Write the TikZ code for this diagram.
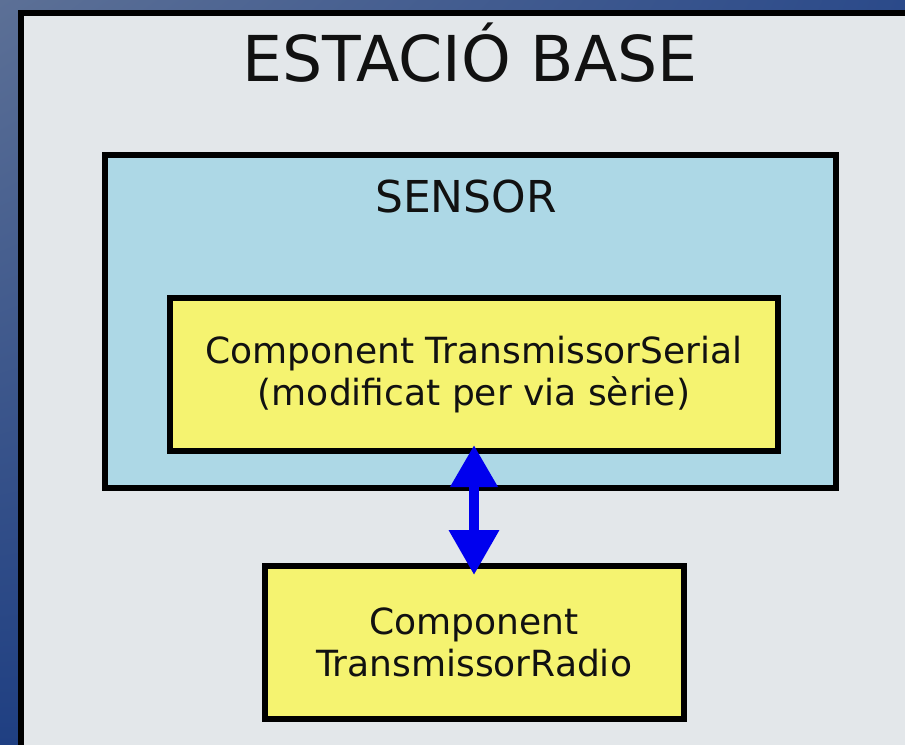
\documentclass[tikz,border=0pt]{standalone}
\usepackage{fontspec}
\setsansfont{DejaVu Sans}
\usepackage{tikz}
\usetikzlibrary{arrows.meta, positioning, shadings}
\definecolor{slatetop}{HTML}{5C7096}
\definecolor{slateright}{HTML}{2B4A8A}
\definecolor{slatebottom}{HTML}{1F3F82}
\definecolor{panelgray}{HTML}{E3E7EA}
\definecolor{sensorblue}{HTML}{ADD8E6}
\definecolor{compyellow}{HTML}{F5F370}
\definecolor{radioblue}{HTML}{0000EE}
\definecolor{inkdark}{HTML}{111111}
\tikzset{
  link/.style={{Triangle[length=0.84cm, width=0.9cm]}-{Triangle[length=0.9cm, width=0.96cm]}, line width=0.2cm, radioblue},
  compbox/.style={rectangle, draw=black, fill=compyellow, line width=0.12cm, minimum height=3.06cm, align=center, text=inkdark, font=\sffamily\fontsize{20.5}{23.5}\selectfont},
}

\begin{document}
\begin{tikzpicture}[
    station/.style={rectangle, draw=black, fill=panelgray, line width=0.12cm, anchor=north west, minimum width=18.6cm, minimum height=15.4cm},
    sensor/.style={rectangle, draw=black, fill=sensorblue, line width=0.12cm, minimum width=14.62cm, minimum height=6.66cm}]

  \useasboundingbox (0,0) rectangle (18.1,-14.9);
  \clip (0,0) rectangle (18.1,-14.9);

  % Backdrop and base station panel
  \shade[upper left=slatetop, upper right=slateright, lower left=slatebottom, lower right=slatebottom] (0,0) rectangle (18.1,-14.9);
  \node[station] (base) at (0.36,-0.2) {};
  \node[anchor=base, font=\sffamily\fontsize{36}{40}\selectfont, text=inkdark] (baselbl) at (9.4,-1.64) {ESTACIÓ BASE};

  % Sensor with its serial component
  \node[sensor] (S) at (9.41,-6.43) {};
  \node[anchor=base, font=\sffamily\fontsize{25}{28}\selectfont, text=inkdark] (sensorlbl) at (9.32,-4.24) {SENSOR};
  \node[compbox, minimum width=12.16cm] (TS) at (9.48,-7.49) {Component TransmissorSerial\\(modificat per via sèrie)};

  % Radio component
  \node[compbox, minimum width=8.38cm] (TR) at (9.48,-12.85) {Component\\TransmissorRadio};
  \draw[link, shorten <=-0.18cm, shorten >=-0.24cm] (TS.south) -- (TR.north);
\end{tikzpicture}
\end{document}
